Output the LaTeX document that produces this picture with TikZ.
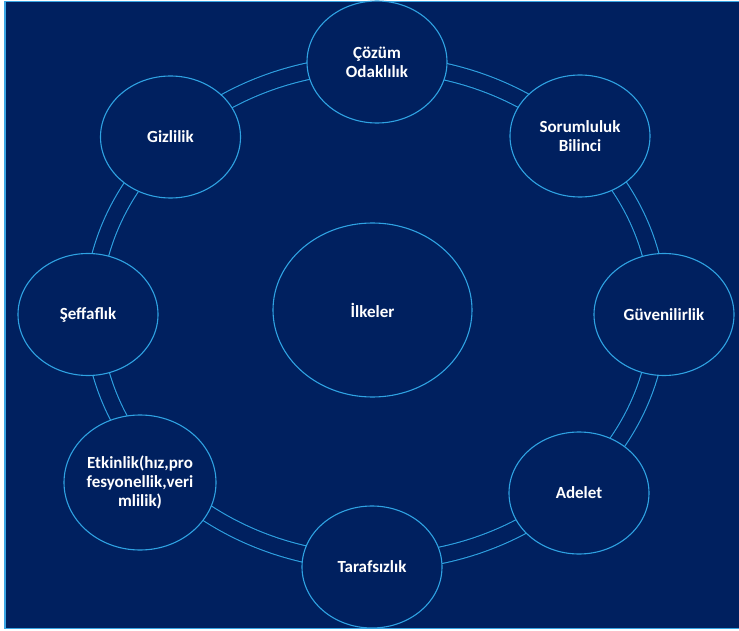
\documentclass[tikz,border=0pt]{standalone}
\usepackage{fontspec}
\setmainfont{Carlito}
\usetikzlibrary{shapes.geometric}
\definecolor{navy}{HTML}{00205F}
\definecolor{lineblue}{HTML}{2FA2E2}
\definecolor{framecol}{HTML}{3AA6E4}
\tikzset{
  item/.style={ellipse, draw=lineblue, line width=1.1, fill=navy, text=white,
    minimum width=140, minimum height=122, inner sep=0pt, align=center,
    font=\fontsize{17}{19}\selectfont\bfseries},
  band/.style={draw=lineblue, line width=1.1, double=navy, double distance=15.5}
}
\begin{document}
\begin{tikzpicture}[x=1pt, y=-1pt]
\useasboundingbox (0,0) rectangle (739,631);
\fill[white] (0,0) rectangle (739,631);
\draw[framecol, fill=navy, line width=1.3] (5,1.5) rectangle (760,628.5);
% ring coordinates
\coordinate (rc) at (375.5,313);
\path (rc) ++(90:283 and 249) coordinate (r90);
\path (rc) ++(135:283 and 249) coordinate (r135);
\path (rc) ++(180:283 and 249) coordinate (r180);
\path (rc) ++(225:283 and 249) coordinate (r225);
\path (rc) ++(270:283 and 249) coordinate (r270);
\path (rc) ++(315:283 and 249) coordinate (r315);
\path (rc) ++(0:283 and 249) coordinate (r0);
\path (rc) ++(45:283 and 249) coordinate (r45);
% band segments
\draw[band] (r0) arc[start angle=0, end angle=45, x radius=283, y radius=249];
\draw[band] (r45) arc[start angle=45, end angle=90, x radius=283, y radius=249];
\draw[band] (r90) arc[start angle=90, end angle=135, x radius=283, y radius=249];
\draw[band] (r135) arc[start angle=135, end angle=180, x radius=283, y radius=249];
\draw[band] (r180) arc[start angle=180, end angle=225, x radius=283, y radius=249];
\draw[band] (r225) arc[start angle=225, end angle=270, x radius=283, y radius=249];
\draw[band] (r270) arc[start angle=270, end angle=315, x radius=283, y radius=249];
\draw[band] (r315) arc[start angle=315, end angle=360, x radius=283, y radius=249];
% nodes
\node[item] (cozum) at (377,62) {Çözüm\\Odaklılık};
\node[item] (sorum) at (580,136) {Sorumluluk\\Bilinci};
\node[item] (guven) at (664,314.5) {Güvenilirlik};
\node[item] (adelet) at (579,493) {Adelet};
\node[item] (taraf) at (372,567) {Tarafsızlık};
\node[item, minimum width=152, minimum height=135] (etkin) at (140,482.5) {Etkinlik(hız,pro\\fesyonellik,veri\\mlilik)};
\node[item] (seffaf) at (88,314.5) {Şeffaflık};
\node[item] (gizli) at (170.5,137) {Gizlilik};
\node[item, minimum width=199, minimum height=174] (ilke) at (372.5,310) {İlkeler};
\end{tikzpicture}
\end{document}
